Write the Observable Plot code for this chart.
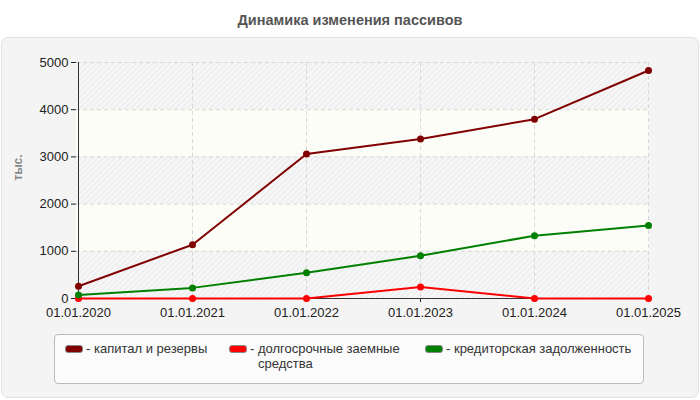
<!DOCTYPE html>
<html><head><meta charset="utf-8">
<script src="https://cdn.jsdelivr.net/npm/d3@7"></script>
<script src="https://cdn.jsdelivr.net/npm/@observablehq/plot@0.6"></script>
<style>
body{margin:0;background:#fff;font-family:"Liberation Sans",Arial,sans-serif;}
#wrap{position:relative;width:700px;height:400px;overflow:hidden;}
#title{position:absolute;top:12px;left:0;width:700px;text-align:center;font-size:14.5px;font-weight:bold;color:#555;}
#panel{position:absolute;top:37px;left:1px;width:696px;height:359px;background:#f4f4f4;border:1px solid #e2e2e2;border-radius:7px;}
#chart{position:absolute;top:0;left:0;}
#legend{position:absolute;left:52px;top:296px;width:588px;height:48px;background:#fbfbfb;border:1px solid #bbb;border-radius:4px;font-size:13px;color:#333;}
.item{position:absolute;top:6px;display:flex;align-items:flex-start;}
.sw{width:16px;height:6px;border-radius:3px;border:1px solid #888;margin-top:4px;margin-right:3px;}
.lbl{line-height:15px;}
</style></head>
<body><div id="wrap">
<div id="title">Динамика изменения пассивов</div>
<div id="panel"><div id="chart"></div>
<div id="legend"></div></div>
</div>
<script>
const dates = ["01.01.2020","01.01.2021","01.01.2022","01.01.2023","01.01.2024","01.01.2025"];
const seriesNames = ["капитал и резервы","долгосрочные заемные средства","кредиторская задолженность"];
const seriesColors = ["#800000","#ff0000","#008000"];
const capital = [260, 1140, 3060, 3380, 3800, 4830];
const longTerm = [0, 0, 0, 245, 0, 0];
const payables = [75, 225, 545, 905, 1330, 1545];
const yTicks = [0,1000,2000,3000,4000,5000];

const values = [capital, longTerm, payables];
const data = [];
values.forEach((arr, s) => arr.forEach((v, i) => data.push({date: dates[i], value: v, series: seriesNames[s]})));
const bands = [[0,1000,true],[1000,2000,false],[2000,3000,true],[3000,4000,false],[4000,5000,true]].map(([lo,hi,h]) => ({lo,hi,h}));

const defs = () => {
  const ns = "http://www.w3.org/2000/svg";
  const g = document.createElementNS(ns, "defs");
  g.innerHTML = `<pattern id="hatch" patternUnits="userSpaceOnUse" width="4" height="4" patternTransform="rotate(45)">
    <rect width="4" height="4" fill="#f7f7f7"/><rect width="1.3" height="4" fill="#ececec"/></pattern>`;
  return g;
};

const chart = Plot.plot({
  width: 696, height: 285,
  marginLeft: 74, marginRight: 49, marginTop: 24, marginBottom: 25,
  style: {background: "transparent", fontFamily: "'Liberation Sans', Arial, sans-serif", fontSize: "12px", color: "#222"},
  x: {type: "point", domain: dates, padding: 0, label: null, tickSize: 4},
  y: {domain: [0,5000], ticks: yTicks, label: null, tickSize: 5},
  color: {domain: seriesNames, range: seriesColors},
  marks: [
    defs,
    Plot.rect(bands, {y1: "lo", y2: "hi", fill: d => d.h ? "url(#hatch)" : "#fdfdf7"}),
    Plot.ruleY(yTicks.slice(1), {stroke: "#d8d8d8", strokeDasharray: "4,3"}),
    Plot.ruleX(dates.slice(1), {stroke: "#d8d8d8", strokeDasharray: "4,3"}),
    Plot.axisY({ticks: yTicks, tickFormat: d => String(d), tickSize: 5, tickPadding: 3, fontSize: 13, label: null}),
    Plot.axisX({tickSize: 4, tickPadding: 5, fontSize: 13, label: null}),
    Plot.ruleX([dates[0]], {stroke: "#333"}),
    Plot.ruleY([0], {stroke: "#333"}),
    Plot.line(data, {x: "date", y: "value", z: "series", stroke: "series", strokeWidth: 2}),
    Plot.dot(data, {x: "date", y: "value", fill: "series", r: 3.5}),
    Plot.text(["тыс."], {frameAnchor: "left", dx: -58, rotate: -90, fill: "#888", fontWeight: "bold", fontSize: 12})
  ]
});
document.getElementById("chart").appendChild(chart);

const legend = document.getElementById("legend");
const lefts = [10, 174, 370];
const labelsHtml = ["капитал и резервы", "долгосрочные заемные<br>средства", "кредиторская задолженность"];
seriesNames.forEach((n, i) => {
  const it = document.createElement("div");
  it.className = "item";
  it.style.left = lefts[i] + "px";
  it.innerHTML = `<div class="sw" style="background:${seriesColors[i]}"></div><div class="lbl">-&nbsp;</div><div class="lbl">${labelsHtml[i]}</div>`;
  legend.appendChild(it);
});
</script>
</body></html>
